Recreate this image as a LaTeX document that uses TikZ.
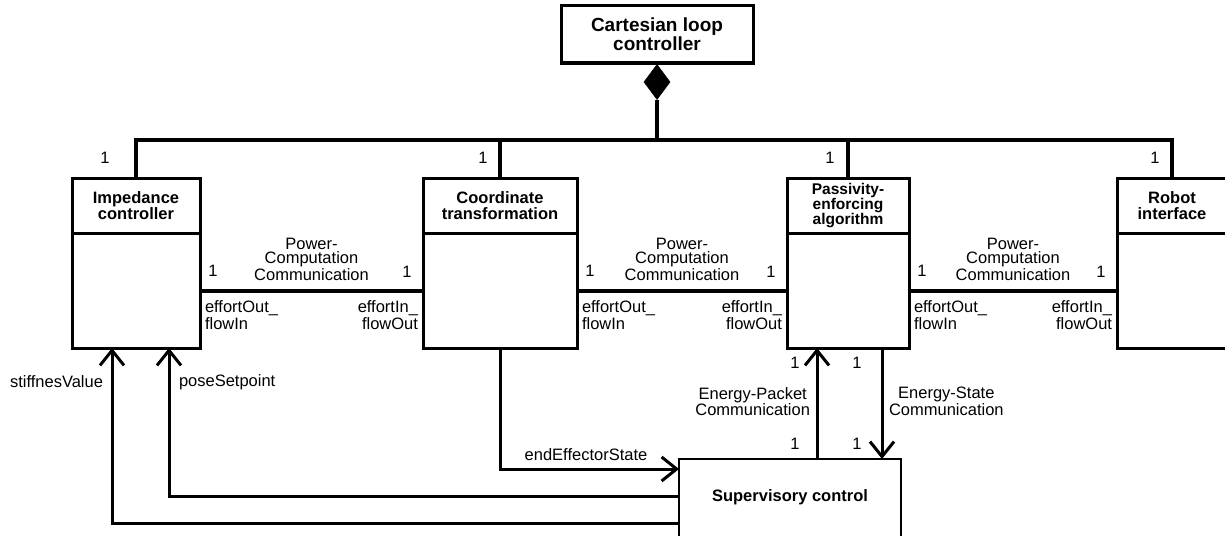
\documentclass[tikz,border=0pt]{standalone}
\usepackage{fontspec}
\setmainfont{Liberation Sans}
\usetikzlibrary{arrows.meta,shapes.geometric,calc}

\begin{document}
\begin{tikzpicture}[x=1pt,y=-1pt,
  every node/.style={inner sep=0pt, outer sep=0pt},
  lbl/.style={font=\fontsize{16.5}{14.6}\selectfont},
  classbox/.style={draw, line width=3pt, fill=white, minimum height=170pt},
  title/.style={font=\fontsize{16.5}{16}\selectfont\bfseries, align=center},
  power/.style={line width=4pt},
  tree/.style={line width=3.5pt},
  flow/.style={line width=3pt, -{Straight Barb[length=15pt,width=24pt]}},
]
\useasboundingbox (0,0) rectangle (1225,535);
\clip (0,0) rectangle (1225,535);

% composite controller and its composition diamond
\node[draw, line width=3pt, minimum width=192pt, minimum height=57pt,
      font=\fontsize{19}{17}\selectfont\bfseries, align=center]
      (clc) at (657,34.5) {Cartesian loop\\controller};
\node[diamond, draw, fill, line width=0.5pt, minimum width=26pt,
      minimum height=35pt, anchor=north] (dia) at ([yshift=-1.5pt]clc.south) {};

% component classes
\node[classbox, minimum width=128pt] (imp) at (136,263) {};
\node[classbox, minimum width=154pt] (ct)  at (500,263) {};
\node[classbox, minimum width=122pt] (pea) at (848,263) {};
\node[classbox, minimum width=110pt] (rob) at (1172,263) {};

\foreach \c in {imp,ct,pea,rob}
  \draw[line width=3pt] ([yshift=-55pt]\c.north west) -- ([yshift=-55pt]\c.north east);

\node[title] (imp-t) at ([yshift=-27.5pt]imp.north) {Impedance\\controller};
\node[title] (ct-t)  at ([yshift=-27.5pt]ct.north)  {Coordinate\\transformation};
\node[title, font=\fontsize{15.5}{14.5}\selectfont\bfseries]
      (pea-t) at ([yshift=-28pt]pea.north) {Passivity-\\enforcing\\algorithm};
\node[title] (rob-t) at ([yshift=-27.5pt]rob.north) {Robot\\interface};

% composition tree
\coordinate (hub) at (dia.south |- 0,140);
\draw[tree] (dia.south) -- (hub);
\draw[tree] (imp.north) |- (hub) -| (rob.north);
\draw[tree] (ct.north) -- (ct.north |- hub);
\draw[tree] (pea.north) -- (pea.north |- hub);

\node[lbl] (m1) at (105,158) {1};
\node[lbl] (m2) at (483,158) {1};
\node[lbl] (m3) at (830,158) {1};
\node[lbl] (m4) at (1155,158) {1};

% power-computation links
\foreach \a/\b/\i in {imp/ct/1, ct/pea/2, pea/rob/3} {
  \draw[power] ([yshift=-28pt]\a.east) coordinate (pl\i) -- ([yshift=-28pt]\b.west) coordinate (pr\i);
  \node[lbl] (pl\i-m) at ([xshift=13pt,yshift=20pt]pl\i) {1};
  \node[lbl] (pr\i-m) at ([xshift=-16pt,yshift=19pt]pr\i) {1};
  \node[lbl, align=center] (pc\i) at ($(pl\i)!0.5!(pr\i)+(0,-32)$) {Power-\\Computation\\Communication};
  \node[lbl, align=left, anchor=north west] (po\i) at ([xshift=5pt,yshift=-10pt]pl\i) {effortOut\_\\flowIn};
  \node[lbl, align=right, anchor=north east] (pi\i) at ([xshift=-5pt,yshift=-10pt]pr\i) {effortIn\_\\flowOut};
}

% supervisory control
\node[draw, line width=1.5pt, minimum width=222pt, minimum height=110pt, anchor=north]
      (sup) at (790,459) {};
\node[title] (sup-t) at (790,497) {Supervisory control};

\draw[flow] (sup.west |- 0,523) -| ([xshift=-24pt]imp.south);
\draw[flow] (sup.west |- 0,496) -| ([xshift=33pt]imp.south);
\node[lbl, anchor=east] (sv) at (103,382) {stiffnesValue};
\node[lbl, anchor=west] (ps) at (179,382) {poseSetpoint};

\draw[flow] (ct.south) |- (sup.west |- 0,469);
\node[lbl] (ees) at (586,455) {endEffectorState};

\draw[flow] (sup.north -| 817,0) -- ([xshift=-31pt]pea.south)
  node[lbl, midway, left=7pt, align=center, yshift=2pt] (ep) {Energy-Packet\\Communication};
\draw[flow] ([xshift=34pt]pea.south) -- (sup.north -| 882,0)
  node[lbl, midway, right=7pt, align=center, yshift=2pt] (es) {Energy-State\\Communication};

\node[lbl] (e1) at (795,363) {1};
\node[lbl] (e2) at (857,363) {1};
\node[lbl] (e3) at (795,444) {1};
\node[lbl] (e4) at (857,444) {1};
\end{tikzpicture}
\end{document}
